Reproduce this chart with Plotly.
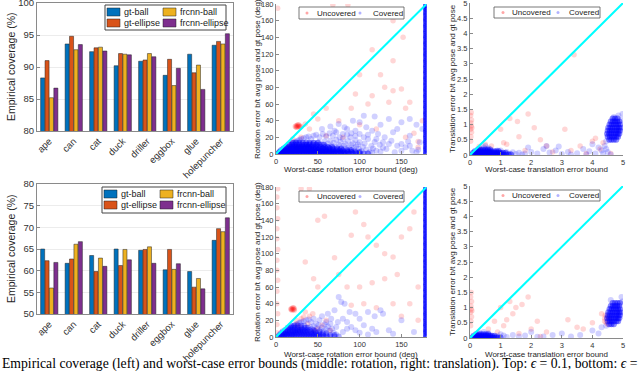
import plotly.graph_objects as go

W, H = 640, 371

categories = ["ape", "can", "cat", "duck", "driller", "eggbox", "glue", "holepuncher"]
series_names = ["gt-ball", "gt-ellipse", "frcnn-ball", "frcnn-ellipse"]
series_colors = ["#0072BD", "#D95319", "#EDB120", "#7E2F8E"]

top_gt_ball = [88.3, 93.6, 92.4, 90.2, 90.9, 88.7, 92.0, 93.4]
top_gt_ellipse = [91.0, 94.8, 93.0, 92.1, 91.1, 91.2, 89.1, 94.0]
top_frcnn_ball = [85.2, 92.7, 93.1, 92.0, 92.1, 87.1, 90.3, 93.6]
top_frcnn_ellipse = [86.7, 93.5, 92.5, 91.9, 91.6, 89.8, 86.5, 95.2]

bot_gt_ball = [65.0, 61.7, 63.5, 65.0, 64.7, 60.2, 59.8, 67.0]
bot_gt_ellipse = [62.3, 62.7, 59.8, 61.2, 64.9, 64.9, 56.2, 69.7]
bot_frcnn_ball = [56.0, 66.1, 62.9, 64.9, 65.5, 60.3, 58.2, 69.0]
bot_frcnn_ellipse = [61.9, 66.7, 61.0, 62.5, 61.7, 61.6, 55.8, 72.2]

bar_y_ticks_top = [80, 85, 90, 95, 100]
bar_y_ticks_bot = [50, 55, 60, 65, 70, 75, 80]
rot_ticks_x = [0, 50, 100, 150]
rot_ticks_y = [0, 20, 40, 60, 80, 100, 120, 140, 160, 180]
tr_ticks_x = [0, 1, 2, 3, 4, 5]
tr_ticks_y = [0, 0.5, 1, 1.5, 2, 2.5, 3, 3.5, 4, 4.5, 5]

# ---------- scatter data ----------
# dense cores: y value -> x values observed along that row
rot_top_core = {
    0.5: [3, 6, 9, 12, 15, 18, 21, 24, 27, 30, 33, 36, 39, 42, 45, 48, 51, 54, 57, 60, 63, 66, 69, 72, 75, 78, 81, 84, 88, 92, 96, 100, 105, 110],
    2.5: [4, 7, 10, 13, 16, 19, 22, 25, 28, 31, 34, 37, 40, 43, 46, 49, 52, 55, 58, 61, 64, 67, 70, 74, 78, 82, 86, 90, 95, 100],
    4.5: [6, 9, 12, 15, 18, 21, 24, 27, 30, 33, 36, 39, 42, 45, 48, 51, 54, 57, 60, 64, 68, 72, 76, 80, 85, 90],
    6.5: [9, 12, 15, 18, 21, 24, 27, 30, 33, 36, 39, 42, 45, 48, 52, 56, 60, 64, 68, 73, 78],
    8.5: [12, 15, 18, 21, 24, 27, 30, 33, 36, 39, 42, 46, 50, 54, 58, 62, 67],
    11: [16, 19, 22, 25, 28, 31, 34, 37, 40, 44, 48, 52, 57],
    13.5: [20, 24, 28, 32, 36, 40, 45, 50],
}
rot_bot_core = {
    0.5: [3, 6, 9, 12, 15, 18, 21, 24, 27, 30, 33, 36, 39, 42, 45, 48, 51, 54, 57, 61, 65, 70, 75],
    2.5: [4, 7, 10, 13, 16, 19, 22, 25, 28, 31, 34, 37, 40, 43, 46, 49, 52, 56, 60, 65, 70],
    4.5: [6, 9, 12, 15, 18, 21, 24, 27, 30, 33, 36, 39, 42, 45, 48, 52, 56, 60],
    6.5: [8, 11, 14, 17, 20, 23, 26, 29, 32, 35, 38, 42, 46, 52],
    8.5: [11, 14, 17, 20, 23, 26, 29, 32, 36, 40, 45],
    11: [14, 17, 20, 23, 26, 30, 34, 38],
    13.5: [18, 22, 26, 30, 34],
}
rot_column_y = [0, 2, 5, 7, 9, 12, 14, 16, 19, 21, 23, 26, 28, 30, 33, 35, 37, 40, 42, 44, 47, 49, 51,
                54, 56, 58, 61, 63, 65, 68, 70, 72, 75, 77, 79, 82, 84, 86, 89, 91, 93, 96, 98, 100,
                103, 105, 107, 110, 112, 114, 117, 119, 121, 124, 126, 128, 131, 133, 135, 138, 140,
                142, 145, 147, 149, 152, 154, 156, 159, 161, 163, 166, 168, 170, 173, 175, 177, 179]
rot_column_x = 179.5

rot_top_covered = [
    (2,0.5),(4,1.5),(5,0.8),(6,2.5),(7,1.2),(8,3.0),(9,0.6),(10,2.2),(11,4.0),(12,1.0),(13,3.2),(14,5.0),
    (15,1.8),(16,4.4),(17,0.7),(18,6.0),(19,2.6),(20,3.8),(21,7.0),(22,1.4),(23,5.2),(24,8.0),(25,2.9),
    (26,4.6),(27,9.0),(28,1.1),(29,6.3),(30,3.5),(31,10.0),(32,5.8),(33,2.0),(34,7.5),(35,4.2),(36,11.0),
    (37,1.6),(38,8.8),(39,3.0),(40,6.5),(41,12.0),(42,2.3),(43,9.5),(44,4.9),(45,13.0),(46,1.0),(47,7.2),
    (48,3.7),(49,10.5),(50,5.5),(51,14.0),(52,2.6),(53,8.1),(54,4.0),(55,11.5),(56,1.5),(57,6.8),(58,15.0),
    (59,3.3),(60,9.2),(61,5.1),(62,12.5),(63,2.0),(64,7.6),(65,16.0),(66,4.4),(67,10.0),(68,1.2),(69,13.5),
    (70,6.0),(71,3.0),(72,17.0),(73,8.5),(74,5.0),(75,11.0),(76,2.2),(77,14.5),(78,7.0),(79,4.0),(80,18.0),
    (81,9.8),(82,1.8),(83,12.0),(84,6.2),(85,3.4),(86,15.5),(87,8.0),(88,5.0),(89,20.0),(90,10.8),(91,2.5),
    (92,13.0),(93,7.0),(94,4.2),(95,16.5),(96,9.0),(97,1.5),(98,11.5),(99,6.0),(100,14.0),(102,3.5),
    (104,8.5),(106,12.5),(108,5.5),(110,18.0),(112,2.5),(114,9.5),(116,6.5),(118,14.5),(120,4.0),
    (124,11.0),(128,7.5),
    (18,12),(20,13),(22,14),(24,15),(26,16),(28,17),(30,18),(33,19),(36,20),(39,21),(42,18),(45,22),
    (48,23),(52,20),(56,24),(60,21),(64,25),(68,22),(72,26),(76,20),(80,24),(85,23),(90,25),(95,22),
    (100,24),(105,20),(110,23),
    (55,30),(65,33),(75,36),(85,30),(92,40),(100,38),(108,32),(115,28),(122,24),(130,20),(138,16),
    (145,30),(150,12),(155,8),(160,22),(163,4),(168,35),(172,14),(150,38),(135,42),(125,35),(140,26),
    (160,42),(118,45),(105,46),(175,30),(132,6),(145,10),(158,15),(170,5),(115,2),(125,3),(135,12),
    (142,2),(150,4),(160,10),(168,2),(120,18),(128,14),(95,28),(82,32),(70,28),
]
rot_top_uncovered = [
    (23,33),(24,34),(25,32),(26,35),(27,33),(28,34),(29,32),(25,34),(27,35),(24,32),(30,33),(26,33),
    (2,175),(68,179),(86,179),(140,160),(152,140),(115,125),(100,95),(140,112),(125,95),(95,72),
    (115,70),(130,80),(140,76),(150,78),(110,60),(135,62),(90,55),(155,55),(160,62),(60,55),(45,48),
    (35,36),(40,30),(50,42),(75,40),(100,35),(120,30),(165,25),(175,40),(170,15),(155,20),(80,20),
    (60,22),(30,20),(20,18),(15,12),(25,8),(170,8),
]

rot_bot_covered = [
    (2,0.5),(5,0.8),(7,1.2),(9,0.6),(11,4.0),(13,3.2),(16,4.4),(19,2.6),(21,7.0),(23,5.2),(24,8.0),
    (27,9.0),(29,6.3),(31,10.0),(34,7.5),(36,11.0),(38,8.8),(41,12.0),(43,9.5),(45,13.0),(47,7.2),
    (49,10.5),(51,14.0),(53,8.1),(55,11.5),(57,6.8),(58,15.0),(60,9.2),(62,12.5),(64,7.6),(65,16.0),
    (67,10.0),(69,5.0),(72,3.0),(16,10),(18,12),(20,13),(22,14),(24,15),(26,16),(28,17),(30,18),
    (33,19),(36,20),(39,21),(42,18),(45,22),(48,16),(52,20),
    (55,25),(62,28),(70,32),(75,48),(78,42),(82,40),(88,30),(95,28),(100,22),(110,30),(118,25),(125,32),
    (128,28),(135,8),(140,4),(115,10),(105,14),(95,8),(85,18),(72,12),(80,6),(150,20),(165,6),(80,22),
    (90,12),(100,5),(110,3),(120,6),(60,18),(66,22),(74,18),(85,10),
]
rot_bot_uncovered = [
    (18,33),(19,34),(20,35),(21,33),(22,34),(19,32),(20,33),(21,35),(18,34),(22,32),
    (1,5),(1,15),(2,28),(1,40),(1,55),(2,68),(1,80),(1,92),(2,105),(1,118),(1,130),(2,142),(1,155),
    (1,168),(2,178),(30,178),(40,178),(50,140),(58,145),(95,150),(105,135),(90,122),(110,120),
    (120,110),(130,100),(140,96),(150,120),(160,130),(165,150),(45,70),(50,60),(35,90),(70,95),
    (75,75),(85,60),(100,60),(115,65),(130,70),(145,75),(160,40),(170,60),(105,40),(120,35),(140,40),
    (90,38),(60,20),(40,25),(30,22),(25,15),(50,10),(65,8),(35,30),(150,25),(170,20),(28,12),(38,16),
    (46,8),(55,14),(33,24),(44,28),(24,20),
]

tr_top_core = {
    0.02: [0.08, 0.14, 0.2, 0.26, 0.32, 0.38, 0.44, 0.5, 0.56, 0.62, 0.68, 0.74, 0.8, 0.86, 0.92, 0.98, 1.04, 1.1, 1.18, 1.26, 1.34],
    0.07: [0.1, 0.16, 0.22, 0.28, 0.34, 0.4, 0.46, 0.52, 0.58, 0.64, 0.7, 0.76, 0.82, 0.88, 0.94, 1.0, 1.08, 1.16],
    0.12: [0.16, 0.22, 0.28, 0.34, 0.4, 0.46, 0.52, 0.58, 0.64, 0.7, 0.78, 0.86, 0.94],
    0.18: [0.26, 0.34, 0.42, 0.5, 0.58, 0.66],
}
tr_bot_core = {
    0.02: [0.08, 0.14, 0.2, 0.26, 0.32, 0.38, 0.44, 0.5, 0.56, 0.62, 0.68, 0.74, 0.8, 0.86, 0.92, 1.0],
    0.07: [0.12, 0.18, 0.24, 0.3, 0.36, 0.42, 0.48, 0.54, 0.6, 0.66, 0.72, 0.8],
    0.12: [0.2, 0.28, 0.36, 0.44, 0.52, 0.6],
}
tr_top_cluster = {
    0.5: [4.55, 4.62, 4.7, 4.78],
    0.6: [4.5, 4.57, 4.64, 4.71, 4.78, 4.84],
    0.7: [4.48, 4.55, 4.62, 4.69, 4.76, 4.83, 4.88],
    0.8: [4.5, 4.57, 4.64, 4.71, 4.78, 4.85, 4.9],
    0.9: [4.52, 4.59, 4.66, 4.73, 4.8, 4.87, 4.92],
    1.0: [4.56, 4.63, 4.7, 4.77, 4.84, 4.9],
    1.1: [4.6, 4.67, 4.74, 4.81, 4.88],
    1.2: [4.66, 4.74, 4.82],
}
tr_bot_cluster = {
    0.45: [4.55, 4.62, 4.7],
    0.55: [4.5, 4.57, 4.64, 4.71, 4.78, 4.84],
    0.65: [4.48, 4.55, 4.62, 4.69, 4.76, 4.83, 4.88],
    0.75: [4.5, 4.57, 4.64, 4.71, 4.78, 4.85, 4.9],
    0.85: [4.52, 4.59, 4.66, 4.73, 4.8, 4.87, 4.92],
    0.95: [4.56, 4.63, 4.7, 4.77, 4.84, 4.9],
    1.05: [4.6, 4.67, 4.74, 4.81, 4.88],
    1.15: [4.66, 4.74, 4.82, 4.9],
}

tr_top_covered = [
    (0.3,0.2),(0.45,0.25),(0.5,0.3),(0.6,0.22),(0.9,0.15),(1.0,0.15),(1.2,0.1),
    (1.4,0.09),(1.5,0.03),(1.6,0.07),(1.7,0.02),(1.8,0.05),(1.3,0.04),
    (2.0,0.1),(2.2,0.05),(2.4,0.2),(2.6,0.08),(2.8,0.15),(3.0,0.03),(3.2,0.1),(3.5,0.06),(3.7,0.2),
    (3.9,0.12),(4.1,0.05),(4.2,0.25),(4.3,0.15),(4.4,0.3),(4.0,0.35),(2.5,0.3),(1.9,0.25),(3.3,0.02),
    (4.5,0.1),(4.6,0.02),(2.9,0.28),(4.35,0.05),(4.45,0.2),(3.8,0.02),
    (4.95,1.15),(4.7,1.25),(4.85,1.3),(4.98,1.35),(4.45,0.45),
]
tr_top_uncovered = [
    (0.02,0.45),(0.03,0.6),(0.05,0.75),(0.02,0.85),(0.04,0.95),(0.03,1.05),(0.05,1.15),(0.02,1.3),
    (0.04,1.4),(0.06,0.9),(1.3,1.2),(1.9,1.35),(1.55,1.1),(1.0,0.85),(1.1,0.4),(1.2,0.35),(0.7,0.3),
    (1.6,0.6),(2.1,0.9),(2.3,0.5),(2.5,0.3),(3.1,0.85),(3.4,3.3),(3.3,0.15),(3.6,0.3),(3.8,0.05),
    (4.0,0.45),(4.1,0.55),(4.35,0.4),(4.25,0.2),(0.3,0.28),(0.5,0.35),(1.8,0.15),(2.7,0.1),(4.6,0.05),
]

tr_bot_covered = [
    (0.3,0.18),(0.45,0.2),(0.6,0.16),(1.1,0.08),(1.2,0.03),
    (1.4,0.1),(1.6,0.05),(1.8,0.08),(2.0,0.2),(2.2,0.04),(2.7,0.1),(3.0,0.15),(3.3,0.05),(3.6,0.1),
    (4.0,0.25),(4.2,0.15),(4.3,0.35),(2.4,0.05),(0.9,0.06),(1.0,0.12),
    (4.95,1.35),(4.98,1.2),(4.45,0.4),(4.6,1.25),
]
tr_bot_uncovered = [
    (0.02,0.4),(0.03,0.55),(0.05,0.7),(0.02,0.85),(0.04,0.95),(0.03,1.05),(0.05,1.2),(0.02,1.35),
    (0.04,1.5),(0.06,0.9),(1.0,1.0),(1.3,1.2),(1.5,1.0),(1.9,1.35),(1.7,1.1),(2.2,0.55),(1.4,0.8),
    (1.2,0.6),(0.8,0.55),(0.6,0.3),(1.1,0.4),(2.0,0.3),(2.5,0.2),(3.2,0.6),(3.5,0.35),(3.7,0.3),
    (4.0,0.5),(4.4,0.55),(4.5,0.7),(4.55,0.6),(4.3,0.8),(4.4,0.65),(2.3,0.05),(1.6,0.15),(0.9,0.2),
    (4.45,0.5),(4.5,0.45),(4.42,0.75),
]

diag_rot = [0, 180]
diag_tr = [0, 5]


def rows_to_points(rows):
    return [(x, y) for y, xs in rows.items() for x in xs]


def column_points(xc, ys):
    return [(xc, y) for y in ys]


# ---------- helpers ----------
def px(x):
    return x / W


def py(y):
    return 1 - y / H


fig = go.Figure()

bar_sets = [
    ("x", "y", [top_gt_ball, top_gt_ellipse, top_frcnn_ball, top_frcnn_ellipse]),
    ("x4", "y4", [bot_gt_ball, bot_gt_ellipse, bot_frcnn_ball, bot_frcnn_ellipse]),
]
for xa, ya, vals in bar_sets:
    for name, col, v in zip(series_names, series_colors, vals):
        fig.add_trace(go.Bar(x=categories, y=v, name=name, xaxis=xa, yaxis=ya,
                             marker=dict(color=col, line=dict(color="#222222", width=0.5)),
                             showlegend=False))


def add_scatter(xa, ya, unc, cov, diag):
    fig.add_trace(go.Scatter(x=[p[0] for p in unc], y=[p[1] for p in unc], mode="markers",
                             xaxis=xa, yaxis=ya, showlegend=False,
                             marker=dict(color="red", size=5.5, opacity=0.16, line=dict(width=0))))
    fig.add_trace(go.Scatter(x=[p[0] for p in cov], y=[p[1] for p in cov], mode="markers",
                             xaxis=xa, yaxis=ya, showlegend=False,
                             marker=dict(color="blue", size=6, opacity=0.18, line=dict(width=0))))
    fig.add_trace(go.Scatter(x=diag, y=diag, mode="lines", xaxis=xa, yaxis=ya, showlegend=False,
                             line=dict(color="#00FFFF", width=2)))


col_pts = column_points(rot_column_x, rot_column_y)
rt_core = rows_to_points(rot_top_core)
rb_core = rows_to_points(rot_bot_core)
tt_core = rows_to_points(tr_top_core)
tb_core = rows_to_points(tr_bot_core)
tt_cl = rows_to_points(tr_top_cluster)
tb_cl = rows_to_points(tr_bot_cluster)
add_scatter("x2", "y2", rot_top_uncovered,
            rot_top_covered + rt_core * 3 + col_pts * 4, diag_rot)
add_scatter("x3", "y3", tr_top_uncovered,
            tr_top_covered + tt_core * 3 + tt_cl * 3, diag_tr)
add_scatter("x5", "y5", rot_bot_uncovered,
            rot_bot_covered + rb_core * 2 + col_pts * 4, diag_rot)
add_scatter("x6", "y6", tr_bot_uncovered,
            tr_bot_covered + tb_core * 3 + tb_cl * 3, diag_tr)

axcol = "#8a8a8a"
tickcol = "#333333"
bar_x = dict(showline=True, mirror=True, linecolor=axcol, linewidth=1, tickangle=-45, automargin=False,
             tickfont=dict(family="Liberation Sans", size=9.5, color=tickcol), ticks="",
             range=[-0.5, 7.5], ticklabeloverflow="allow")
bar_y = dict(showline=True, mirror=True, linecolor=axcol, linewidth=1, showgrid=True, automargin=False,
             gridcolor="#ececec", gridwidth=1, ticks="inside", ticklen=3, tickcolor=axcol,
             tickfont=dict(family="Liberation Sans", size=9.5, color=tickcol), zeroline=False,
             ticklabeloverflow="allow")
sc_ax = dict(showline=True, mirror=False, linecolor=axcol, linewidth=1, showgrid=False, zeroline=False,
             ticks="inside", ticklen=3, tickcolor=axcol, automargin=False, ticklabeloverflow="allow",
             tickfont=dict(family="Liberation Sans", size=7.5, color=tickcol))

L_bar = (px(37), px(233))
L_rot = (px(276), px(426.5))
L_tr = (px(470), px(623))

fig.update_layout(
    width=W, height=H, margin=dict(l=0, r=0, t=0, b=0, autoexpand=False),
    paper_bgcolor="white", plot_bgcolor="white",
    barmode="group", bargap=0.28, bargroupgap=0.08,
    xaxis=dict(bar_x, domain=L_bar, anchor="y"),
    yaxis=dict(bar_y, domain=[py(131), py(3)], range=[80, 100], tickvals=bar_y_ticks_top, anchor="x"),
    xaxis4=dict(bar_x, domain=L_bar, anchor="y4"),
    yaxis4=dict(bar_y, domain=[py(314), py(184)], range=[50, 80], tickvals=bar_y_ticks_bot, anchor="x4"),
    xaxis2=dict(sc_ax, domain=L_rot, range=[0, 180], tickvals=rot_ticks_x, anchor="y2"),
    yaxis2=dict(sc_ax, domain=[py(154), py(4)], range=[0, 180], tickvals=rot_ticks_y, anchor="x2"),
    xaxis3=dict(sc_ax, domain=L_tr, range=[0, 5], tickvals=tr_ticks_x, anchor="y3"),
    yaxis3=dict(sc_ax, domain=[py(155), py(3)], range=[0, 5], tickvals=tr_ticks_y, anchor="x3"),
    xaxis5=dict(sc_ax, domain=L_rot, range=[0, 180], tickvals=rot_ticks_x, anchor="y5"),
    yaxis5=dict(sc_ax, domain=[py(337), py(187)], range=[0, 180], tickvals=rot_ticks_y, anchor="x5"),
    xaxis6=dict(sc_ax, domain=L_tr, range=[0, 5], tickvals=tr_ticks_x, anchor="y6"),
    yaxis6=dict(sc_ax, domain=[py(338), py(186)], range=[0, 5], tickvals=tr_ticks_y, anchor="x6"),
)

shapes = []
annots = []


def txt(x, y, s, size, angle=0, anchor="left", family="Liberation Sans", color="#262626"):
    annots.append(dict(x=px(x), y=py(y), xref="paper", yref="paper", text=s, showarrow=False,
                       xanchor=anchor, yanchor="middle", textangle=angle,
                       font=dict(family=family, size=size, color=color)))


# axis titles
txt(11, 67, "Empirical coverage (%)", 10.5, angle=-90, anchor="center")
txt(11, 249, "Empirical coverage (%)", 10.5, angle=-90, anchor="center")
txt(257, 79, "Rotation error b/t avg pose and gt pose (deg)", 8, angle=-90, anchor="center")
txt(257, 262, "Rotation error b/t avg pose and gt pose (deg)", 8, angle=-90, anchor="center")
txt(452, 79, "Translation error b/t avg pose and gt pose", 8, angle=-90, anchor="center")
txt(452, 262, "Translation error b/t avg pose and gt pose", 8, angle=-90, anchor="center")
txt(351, 169, "Worst-case rotation error bound (deg)", 8, anchor="center")
txt(351, 354, "Worst-case rotation error bound (deg)", 8, anchor="center")
txt(546, 169, "Worst-case translation error bound", 8, anchor="center")
txt(546, 354, "Worst-case translation error bound", 8, anchor="center")


# bar legends
def bar_legend(x0, y0, x1, y1):
    shapes.append(dict(type="rect", xref="paper", yref="paper", x0=px(x0), x1=px(x1), y0=py(y1), y1=py(y0),
                       line=dict(color="#444444", width=1), fillcolor="white", layer="above"))
    rows = [(y0 + 3, y0 + 11), (y0 + 14, y0 + 22)]
    order = [(0, 0, 0), (2, 1, 0), (1, 0, 1), (3, 1, 1)]
    for si, colx, row in order:
        sx = x0 + 2 + colx * 56
        ry0, ry1 = rows[row]
        shapes.append(dict(type="rect", xref="paper", yref="paper", x0=px(sx), x1=px(sx + 13),
                           y0=py(ry1), y1=py(ry0), fillcolor=series_colors[si],
                           line=dict(color="#222222", width=0.5), layer="above"))
        txt(sx + 14.5, (ry0 + ry1) / 2, series_names[si], 9, color="#1a1a1a")


bar_legend(105, 5, 226, 30)
bar_legend(102, 187, 226, 213)


# scatter legends
def sc_legend(x0, y0, x1, y1, mr, tu, mb, tc):
    shapes.append(dict(type="rect", xref="paper", yref="paper", x0=px(x0), x1=px(x1), y0=py(y1), y1=py(y0),
                       line=dict(color="#555555", width=0.8), fillcolor="white", layer="above"))
    ym = (y0 + y1) / 2
    for mx, c in ((mr, "rgba(255,0,0,0.35)"), (mb, "rgba(0,0,255,0.3)")):
        shapes.append(dict(type="circle", xref="paper", yref="paper", x0=px(mx - 1.5), x1=px(mx + 1.5),
                           y0=py(ym + 1.5), y1=py(ym - 1.5), fillcolor=c, line=dict(width=0), layer="above"))
    txt(tu, ym, "Uncovered", 8, color="#1a1a1a")
    txt(tc, ym, "Covered", 8, color="#1a1a1a")


sc_legend(299, 7, 404, 19, 307, 315, 360, 371)
sc_legend(494, 7, 600, 18, 503, 510, 558, 567)
sc_legend(299, 191, 404, 202, 307, 315, 360, 371)
sc_legend(494, 190, 600, 201, 503, 510, 558, 567)

# caption
annots.append(dict(x=0, y=py(364), xref="paper", yref="paper", showarrow=False, xanchor="left",
                   yanchor="middle",
                   text="Empirical coverage (left) and worst-case error bounds (middle: rotation, right: translation). "
                        "Top: <i>ϵ</i> = 0.1, bottom: <i>ϵ</i> = 0.4.",
                   font=dict(family="Liberation Serif", size=13.7, color="black")))

fig.update_layout(shapes=shapes, annotations=annots)
fig.write_html("out.html", config={"displayModeBar": False},
               post_script="document.body.style.margin='0px';")
